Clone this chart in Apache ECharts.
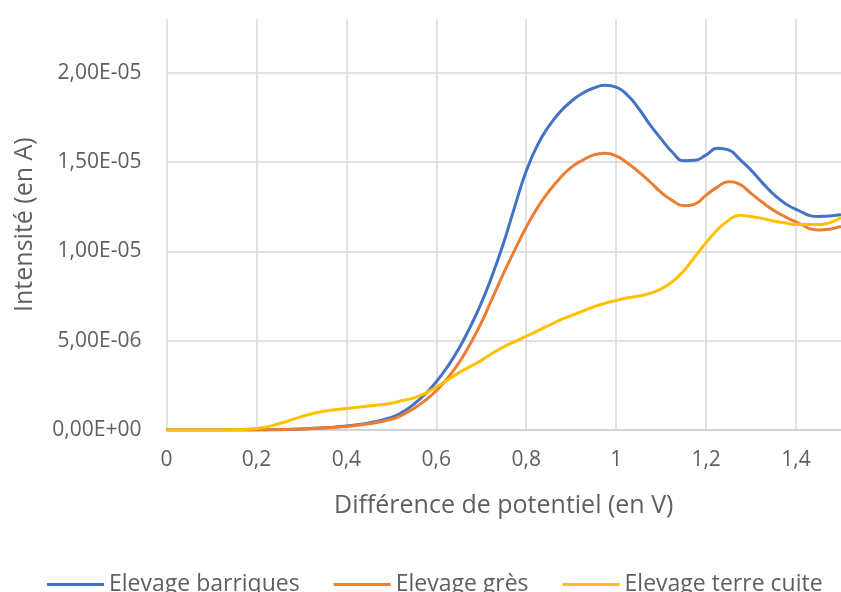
<!DOCTYPE html>
<html>
<head>
<meta charset="utf-8">
<script src="https://cdn.jsdelivr.net/npm/echarts@6/dist/echarts.min.js"></script>
<style>
  html, body { margin: 0; padding: 0; background: #fff; }
  #chart { width: 841px; height: 592px; }
</style>
</head>
<body>
<div id="chart"></div>
<script>
// Potential difference (V): 0.05 V steps, 0.025 V steps through the oxidation peaks
const potentials = [0, 0.05, 0.1, 0.15, 0.2, 0.25, 0.3, 0.35, 0.4, 0.45, 0.5,
  0.525, 0.55, 0.575, 0.6, 0.625, 0.65, 0.675, 0.7, 0.725, 0.75, 0.775,
  0.8, 0.825, 0.85, 0.875, 0.9, 0.925, 0.95, 0.975, 1.0, 1.025, 1.05, 1.075,
  1.1, 1.125, 1.15, 1.175, 1.2, 1.225, 1.25, 1.275, 1.3, 1.325, 1.35, 1.375,
  1.4, 1.45, 1.5];

// Current intensity (µA) for each ageing vessel
const barriques = [0, 0, 0, 0, 0, 0.02, 0.05, 0.12, 0.22, 0.4, 0.7,
  1.0, 1.45, 2.0, 2.7, 3.55, 4.55, 5.75, 7.1, 8.7, 10.5, 12.55,
  14.5, 15.95, 17.0, 17.8, 18.4, 18.85, 19.15, 19.3, 19.2, 18.75, 18.0, 17.1,
  16.3, 15.55, 15.08, 15.1, 15.4, 15.78, 15.68, 15.15, 14.55, 13.85, 13.2, 12.7,
  12.35, 11.95, 12.05];
const gres = [0, 0, 0, 0, 0, 0.02, 0.05, 0.12, 0.2, 0.35, 0.6,
  0.85, 1.2, 1.65, 2.2, 2.9, 3.75, 4.8, 6.0, 7.4, 8.8, 10.1,
  11.35, 12.45, 13.35, 14.1, 14.7, 15.1, 15.4, 15.5, 15.35, 14.95, 14.45, 13.9,
  13.3, 12.85, 12.55, 12.65, 13.15, 13.6, 13.9, 13.75, 13.25, 12.75, 12.3, 11.95,
  11.65, 11.2, 11.4];
const terreCuite = [0, 0, 0, 0.02, 0.08, 0.35, 0.75, 1.05, 1.2, 1.35, 1.5,
  1.65, 1.8, 2.05, 2.4, 2.8, 3.2, 3.55, 3.9, 4.3, 4.65, 4.95,
  5.25, 5.55, 5.85, 6.15, 6.4, 6.65, 6.9, 7.1, 7.25, 7.4, 7.5, 7.65,
  7.9, 8.3, 8.9, 9.7, 10.5, 11.2, 11.75, 12.02, 11.95, 11.85, 11.7, 11.6,
  11.5, 11.5, 11.9];

const seriesNames = ['Elevage barriques', 'Elevage grès', 'Elevage terre cuite'];
const seriesColors = ['#4472C4', '#ED7D31', '#FFC000'];

const MICRO = 1e-6;
const FONT = '"Open Sans"';
const TEXT = '#5f5f5f';

function frNumber(v) {
  return String(+v.toFixed(1)).replace('.', ',');
}
function sciLabel(v) {
  if (v === 0) return '0,00E+00';
  const exp = Math.floor(Math.log10(Math.abs(v)) + 1e-9);
  const mant = v / Math.pow(10, exp);
  const sign = exp < 0 ? '-' : '+';
  const e = String(Math.abs(exp)).padStart(2, '0');
  return mant.toFixed(2).replace('.', ',') + 'E' + sign + e;
}

const pairs = arr => potentials.map((x, i) => [x, arr[i] * MICRO]);
const allSeries = [barriques, gres, terreCuite].map((arr, i) => ({
  name: seriesNames[i],
  type: 'line',
  data: pairs(arr),
  smooth: 0.5,
  symbol: 'none',
  lineStyle: { color: seriesColors[i], width: 3 },
  itemStyle: { color: seriesColors[i] },
  z: 2 + i
}));

const chart = echarts.init(document.getElementById('chart'), null, { renderer: 'canvas' });
chart.setOption({
  animation: false,
  backgroundColor: '#ffffff',
  textStyle: { fontFamily: FONT },
  grid: { left: 166.5, right: -2, top: 19.2, bottom: 162 },
  xAxis: {
    type: 'value',
    min: 0,
    max: 1.5,
    interval: 0.2,
    name: 'Différence de potentiel (en V)',
    nameLocation: 'middle',
    nameGap: 63,
    nameTextStyle: { color: TEXT, fontSize: 25, fontFamily: FONT },
    axisLine: { show: true, lineStyle: { color: '#cfcfcf', width: 1.5 } },
    axisTick: { show: false },
    axisLabel: {
      color: TEXT, fontSize: 21, fontFamily: FONT, margin: 20,
      showMaxLabel: false,
      formatter: frNumber
    },
    splitLine: { show: true, showMaxLine: false, lineStyle: { color: '#d9d9d9', width: 1.5 } }
  },
  yAxis: {
    type: 'value',
    min: 0,
    max: 23e-6,
    interval: 5e-6,
    name: 'Intensité (en A)',
    nameLocation: 'middle',
    nameGap: 129,
    nameTextStyle: { color: TEXT, fontSize: 25, fontFamily: FONT },
    axisLine: { show: false },
    axisTick: { show: false },
    axisLabel: {
      color: TEXT, fontSize: 21, fontFamily: FONT, margin: 25,
      showMaxLabel: false,
      formatter: sciLabel
    },
    splitLine: { show: true, showMaxLine: false, lineStyle: { color: '#d9d9d9', width: 1.5 } }
  },
  legend: {
    bottom: -4,
    left: 47,
    padding: 0,
    icon: 'rect',
    itemWidth: 57,
    itemHeight: 3,
    itemGap: 34,
    textStyle: { color: TEXT, fontSize: 23, fontFamily: FONT },
    data: seriesNames
  },
  series: allSeries
});
</script>
</body>
</html>
